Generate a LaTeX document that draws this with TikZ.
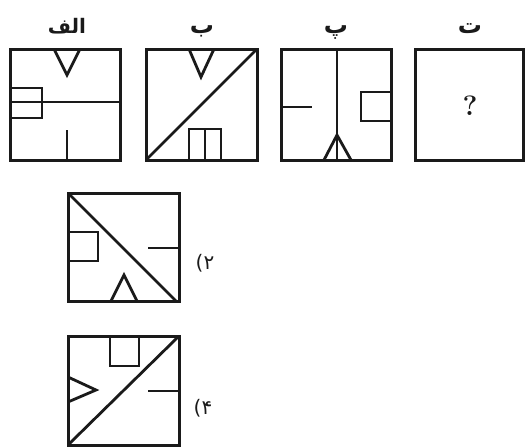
\documentclass[tikz,border=0pt]{standalone}
\usepackage{fontspec}
\usepackage{tikz}
\TeXXeTstate=1
\newfontfamily\arabicfont[Script=Arabic]{DejaVu Sans}
\definecolor{ink}{HTML}{1A1A1A}
\tikzset{
  frame/.style={draw=ink, line width=3pt},
  part/.style={draw=ink, line width=2.8pt, line join=miter},
  lbl/.style={font=\arabicfont\bfseries\fontsize{20}{24}\selectfont, text=ink, inner sep=0pt, anchor=base},
  opt/.style={font=\arabicfont\fontsize{20}{24}\selectfont, text=ink, inner sep=0pt},
}

\begin{document}
\begin{tikzpicture}[x=1pt, y=-1pt]
    \useasboundingbox (0,0) rectangle (525,447);
    % question row
    \node[lbl] (la) at (67,34) {\beginR الف\endR};
    \node[lbl, font=\arabicfont\bfseries\fontsize{24}{28}\selectfont] (lb) at (202,33) {\beginR ب\endR};
    \node[lbl, font=\arabicfont\bfseries\fontsize{24}{28}\selectfont] (lp) at (336,33) {\beginR پ\endR};
    \node[lbl, font=\arabicfont\bfseries\fontsize{24}{28}\selectfont] (lt) at (470,34) {\beginR ت\endR};
    % figure a
    \draw[part] (54,49) -- (67,75) -- (80,49);
    \draw[part] (10,88) rectangle (42,118);
    \draw[part] (10,102) -- (120,102);
    \draw[part] (67,160) -- (67,130);
    \draw[frame] (10,49) rectangle (120,160);
    % figure b
    \draw[part] (189,49) -- (201,77) -- (214,49);
    \draw[part] (146,160) -- (257,49);
    \draw[part] (189,160) |- (221,129) -- (221,160);
    \draw[part] (205,129) -- (205,160);
    \draw[frame] (146,49) rectangle (257,160);
    % figure p
    \draw[part] (337,49) -- (337,160);
    \draw[part] (324,160) -- (337,135) -- (351,160);
    \draw[part] (281,107) -- (312,107);
    \draw[part] (391,92) -| (361,121) -- (391,121);
    \draw[frame] (281,49) rectangle (391,160);
    % figure t
    \draw[frame] (415,49) rectangle (523,160);
    \node[font=\bfseries\fontsize{28}{32}\selectfont, text=ink] (q) at (470,106) {?};
    % answer 2
    \draw[part] (68,193) -- (176,301);
    \draw[part] (68,232) -| (98,261) -- (68,261);
    \draw[part] (148,248) -- (179,248);
    \draw[part] (111,301) -- (124,275) -- (137,301);
    \draw[frame] (68,193) rectangle (179,301);
    \node[opt] (o2) at (205,263) {\beginR ۲)\endR};
    % answer 4
    \draw[part] (68,445) -- (179,336);
    \draw[part] (110,336) |- (139,366) -- (139,336);
    \draw[part] (68,377) -- (96,390) -- (68,402);
    \draw[part] (148,391) -- (179,391);
    \draw[frame] (68,336) rectangle (179,445);
    \node[opt] (o4) at (203,408) {\beginR ۴)\endR};
\end{tikzpicture}
\end{document}
